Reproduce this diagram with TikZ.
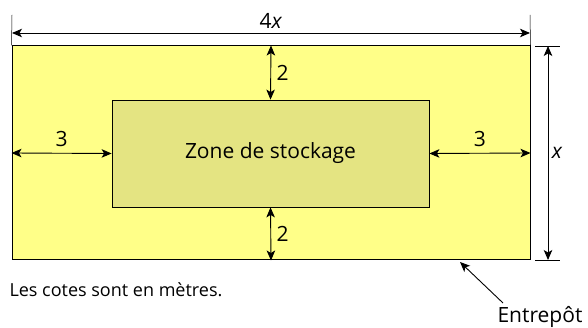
\documentclass[tikz,border=0pt]{standalone}
\usepackage{fontspec}
\setmainfont{Open Sans}
\usetikzlibrary{arrows.meta,positioning}
\definecolor{jaune}{RGB}{255,255,136}
\definecolor{olive}{RGB}{228,228,130}
\tikzset{
  pointe/.tip={Stealth[length=10pt,width=8.5pt,inset=2.5pt]},
  cote/.style={pointe-pointe, line width=0.9pt},
  fleche/.style={-pointe, line width=0.9pt},
  repere/.style={line width=0.5pt},
}
\begin{document}
\begin{tikzpicture}[x=1pt,y=-1pt,font=\fontsize{21}{25}\selectfont]
\useasboundingbox (0,0) rectangle (588,328);

\node (entrepot) [draw, fill=jaune, line width=1pt, minimum width=518pt, minimum height=214pt] at (271,153) {};
\node (zone) [draw, fill=olive, line width=0.8pt, minimum width=317pt, minimum height=107pt] at (270.5,153.5) {Zone de stockage};

% cotes interieures
\draw[cote] (entrepot.north) -- node[right=2pt] {2} (zone.north);
\draw[cote] (zone.south) -- node[right=2pt] {2} (entrepot.south);
\draw[cote] (entrepot.west) -- node[above=3pt] {3} (zone.west);
\draw[cote] (zone.east) -- node[above=3pt] {3} (entrepot.east);

% cote 4x
\coordinate (H1) at (12,15);
\coordinate (H2) at (530,15);
\draw[repere] (H1) -- (entrepot.north west);
\draw[repere] (H2) -- (entrepot.north east);
\coordinate (L) at (12,33);
\coordinate (R) at (530,33);
\draw[cote] (L) -- node[above=1pt] {4\textit{x}} (R);

% cote x
\coordinate (V1) at (535,46);
\coordinate (V2) at (560,46);
\coordinate (V3) at (535,260);
\coordinate (V4) at (560,260);
\draw[repere] (V1) -- (V2);
\draw[repere] (V3) -- (V4);
\coordinate (T) at (548,46);
\coordinate (B) at (548,260);
\draw[cote] (T) -- node[right=0pt] {\textit{x}} (B);

% legendes
\node (cotes) [anchor=west, font=\fontsize{18}{22}\selectfont] at (6,290) {Les cotes sont en mètres.};
\node (nom) at (540,317) {Entrepôt};
\coordinate (P) at (460,262);
\coordinate (Q) at (503,303);
\draw[fleche] (Q) -- (P);
\end{tikzpicture}
\end{document}
